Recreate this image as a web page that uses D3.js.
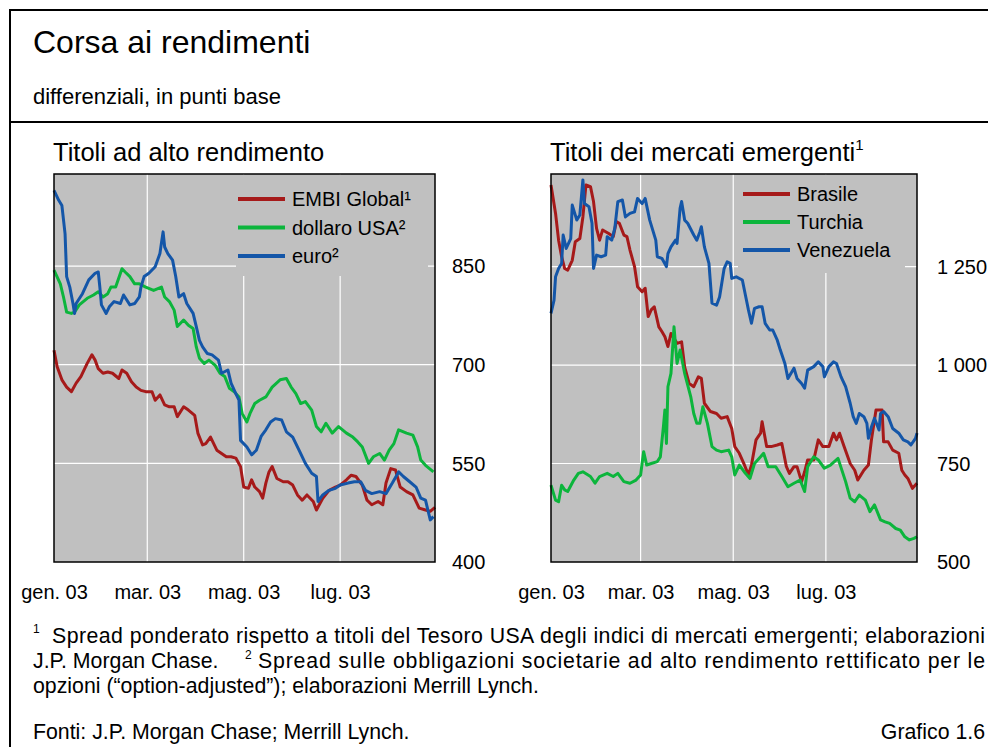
<!DOCTYPE html>
<html>
<head>
<meta charset="utf-8">
<script src="https://cdn.jsdelivr.net/npm/d3@7"></script>
<style>
  body { margin: 0; background: #fff; }
  svg { display: block; font-family: "Liberation Sans", Arial, sans-serif; }
</style>
</head>
<body>
<script>
// x axis: months shown and their labels
const monthTicks = ["2003-01-01", "2003-03-01", "2003-05-01", "2003-07-01"];
const monthLabels = ["gen. 03", "mar. 03", "mag. 03", "lug. 03"];

// left panel (high yield) - [days since 1 Jan 2003, basis points]
const hyTicks = [400, 550, 700, 850];
const embiGlobal = [[0,722],[2,697],[5,677],[8,666],[11,659],[14,672],[17,682],[21,702],[24,715],[26,707],[28,694],[31,687],[34,689],[37,687],[41,679],[43,692],[46,687],[49,674],[52,666],[55,661],[58,659],[62,659],[64,646],[67,654],[70,639],[73,636],[76,636],[78,621],[82,636],[85,631],[89,623],[91,596],[94,578],[96,580],[99,590],[103,570],[106,565],[109,560],[112,560],[115,558],[118,545],[120,514],[123,512],[125,525],[127,514],[130,507],[132,497],[134,520],[136,537],[138,545],[141,527],[145,522],[148,522],[151,517],[154,502],[157,494],[160,502],[164,492],[166,479],[170,497],[174,509],[178,514],[181,517],[185,525],[188,532],[191,530],[195,517],[198,494],[201,487],[205,492],[208,487],[210,520],[213,542],[216,540],[219,514],[223,507],[227,502],[231,482],[235,479],[238,477],[241,483]];
const dollaroUSA = [[0,844],[4,823],[6,803],[8,780],[11,778],[13,780],[16,791],[21,801],[25,806],[28,811],[31,803],[34,808],[36,818],[39,818],[43,846],[45,841],[48,834],[51,823],[54,823],[58,818],[63,813],[68,818],[70,803],[73,796],[76,783],[78,758],[82,768],[85,760],[88,755],[90,727],[92,710],[95,702],[98,707],[102,699],[105,687],[108,682],[111,664],[114,659],[117,651],[119,626],[122,613],[124,626],[127,641],[130,646],[134,651],[138,666],[143,677],[147,679],[150,666],[153,656],[156,641],[159,644],[163,631],[166,606],[169,598],[172,611],[176,596],[180,606],[185,596],[189,590],[192,583],[195,575],[199,550],[202,560],[206,565],[209,555],[212,570],[215,580],[218,601],[223,596],[227,593],[230,575],[232,555],[235,547],[240,537]];
const euro = [[0,965],[3,950],[5,942],[7,899],[8,834],[10,818],[12,793],[13,778],[14,793],[18,808],[22,829],[26,839],[28,841],[29,818],[30,791],[33,778],[35,788],[38,796],[42,793],[44,806],[48,791],[51,793],[54,803],[55,818],[57,834],[60,839],[64,849],[67,869],[69,902],[70,879],[72,869],[75,859],[77,834],[79,803],[82,808],[84,793],[88,778],[90,758],[92,737],[94,727],[97,717],[100,715],[104,707],[106,687],[110,692],[112,672],[115,656],[117,646],[118,585],[122,575],[125,563],[128,570],[131,591],[134,601],[137,613],[140,618],[144,616],[147,598],[151,590],[155,570],[159,550],[163,535],[166,530],[167,492],[170,502],[174,509],[178,512],[181,517],[186,520],[190,522],[194,522],[197,509],[201,504],[206,507],[210,504],[214,520],[218,537],[221,530],[225,522],[229,514],[232,497],[235,494],[238,464],[240,469]];

// right panel (emerging markets)
const emTicks = [500, 750, 1000, 1250];
const brasile = [[0,1457],[3,1385],[5,1317],[7,1275],[9,1245],[11,1241],[14,1266],[16,1313],[19,1321],[21,1376],[23,1457],[26,1453],[28,1415],[30,1347],[32,1317],[34,1343],[38,1334],[41,1326],[43,1364],[45,1360],[48,1330],[50,1326],[52,1292],[55,1250],[57,1199],[60,1186],[62,1195],[64,1123],[66,1140],[68,1148],[71,1097],[73,1085],[75,1072],[77,1047],[79,1080],[83,1055],[86,1059],[88,995],[91,953],[94,945],[97,970],[99,966],[101,903],[105,882],[109,877],[112,865],[116,869],[119,839],[121,793],[124,776],[127,750],[130,721],[132,746],[135,810],[138,827],[139,856],[142,793],[145,793],[149,797],[152,801],[155,742],[157,725],[160,742],[162,742],[165,704],[167,729],[169,759],[173,759],[176,810],[179,793],[183,793],[186,827],[188,810],[190,827],[193,793],[197,750],[200,733],[202,708],[206,733],[209,746],[211,810],[214,886],[218,886],[219,805],[222,805],[225,784],[229,776],[231,733],[233,721],[235,712],[238,687],[241,700]];
const turchia = [[0,695],[3,657],[5,653],[7,695],[9,683],[11,679],[15,708],[18,725],[21,729],[26,717],[29,700],[32,717],[37,725],[41,717],[44,725],[48,704],[52,700],[56,708],[59,721],[61,780],[63,746],[66,750],[70,755],[72,767],[74,843],[75,886],[76,801],[77,945],[79,979],[81,1097],[83,1004],[85,1038],[88,979],[92,920],[94,877],[96,852],[98,852],[100,894],[103,852],[106,793],[109,784],[112,780],[117,784],[119,767],[121,721],[124,746],[128,725],[131,712],[134,750],[138,767],[140,776],[143,742],[148,742],[152,717],[156,691],[160,700],[164,708],[167,679],[169,742],[173,767],[176,759],[180,738],[184,746],[189,763],[194,704],[197,662],[200,653],[203,670],[207,657],[210,628],[213,645],[217,607],[220,602],[223,598],[227,585],[230,581],[233,564],[236,556],[239,560],[241,564]];
const venezuela = [[0,1131],[2,1165],[3,1224],[5,1245],[7,1258],[8,1330],[10,1296],[13,1321],[14,1406],[17,1368],[19,1381],[21,1470],[22,1410],[25,1402],[27,1360],[28,1245],[30,1279],[33,1275],[36,1279],[37,1326],[40,1317],[42,1347],[44,1415],[47,1419],[49,1376],[52,1385],[55,1389],[57,1423],[60,1410],[62,1423],[65,1368],[69,1317],[70,1275],[73,1271],[76,1250],[77,1283],[79,1300],[82,1317],[83,1309],[85,1398],[86,1415],[88,1368],[90,1360],[94,1330],[96,1317],[98,1338],[99,1351],[101,1300],[104,1258],[106,1157],[109,1152],[111,1173],[114,1245],[116,1262],[118,1258],[119,1220],[122,1224],[126,1216],[128,1178],[130,1140],[132,1106],[134,1144],[137,1148],[139,1148],[141,1106],[144,1089],[146,1089],[149,1063],[151,1038],[154,1004],[156,966],[160,992],[162,966],[165,953],[167,941],[169,987],[173,996],[176,1008],[179,996],[180,970],[183,996],[186,1008],[188,1004],[191,970],[194,945],[197,903],[199,869],[201,852],[203,877],[206,869],[208,852],[209,814],[211,843],[213,865],[216,835],[217,877],[219,882],[222,869],[225,839],[229,827],[232,810],[235,805],[237,797],[240,814],[241,827]];

const RED = "#a61a1a", GREEN = "#0cb53c", BLUE = "#1456a8", BG = "#c0c0c0";
const start = new Date(2003, 0, 1);
const toDate = d => d3.timeDay.offset(start, d[0]);
const locale = d3.formatLocale({ decimal: ",", thousands: " ", grouping: [3], currency: ["", ""] });
const fmt = locale.format(",d");

const svg = d3.select("body").append("svg")
    .attr("width", 988)
    .attr("height", 747);

// frame
svg.append("line").attr("x1", 9).attr("x2", 988).attr("y1", 10).attr("y2", 10).attr("stroke", "#000").attr("stroke-width", 2);
svg.append("line").attr("x1", 10).attr("x2", 10).attr("y1", 9).attr("y2", 747).attr("stroke", "#000").attr("stroke-width", 2);
svg.append("line").attr("x1", 9).attr("x2", 988).attr("y1", 122).attr("y2", 122).attr("stroke", "#000").attr("stroke-width", 2);

svg.append("text").attr("x", 33).attr("y", 53).attr("font-size", 32).text("Corsa ai rendimenti");
svg.append("text").attr("x", 33).attr("y", 104).attr("font-size", 22).text("differenziali, in punti base");

function panel(cfg) {
    const g = svg.append("g");
    const x = d3.scaleTime()
        .domain([start, new Date(2003, 7, 30)])
        .range([cfg.left, cfg.right]);
    const y = d3.scaleLinear()
        .domain(cfg.yDomain)
        .range([562, 174]);

    g.append("rect")
        .attr("x", cfg.left).attr("y", 174)
        .attr("width", cfg.right - cfg.left).attr("height", 562 - 174)
        .attr("fill", BG);

    // grid
    g.selectAll(".hg").data(cfg.ticks.slice(1)).join("line")
        .attr("x1", cfg.left).attr("x2", cfg.right)
        .attr("y1", d => y(d)).attr("y2", d => y(d))
        .attr("stroke", "#fff").attr("stroke-width", 1.2);
    g.selectAll(".vg").data(monthTicks.slice(1)).join("line")
        .attr("x1", d => x(new Date(d))).attr("x2", d => x(new Date(d)))
        .attr("y1", 174).attr("y2", 562)
        .attr("stroke", "#fff").attr("stroke-width", 1.2);

    // legend box hides the grid behind it
    g.append("rect")
        .attr("x", cfg.legend.x0).attr("y", 175)
        .attr("width", cfg.legend.x1 - cfg.legend.x0).attr("height", cfg.legend.y1 - 175)
        .attr("fill", BG);

    const line = d3.line()
        .x(d => x(toDate(d)))
        .y(d => y(d[1]));

    cfg.series.forEach(s => {
        g.append("path")
            .datum(s.data)
            .attr("fill", "none")
            .attr("stroke", s.color)
            .attr("stroke-width", 3)
            .attr("stroke-linejoin", "round")
            .attr("d", line);
    });

    // legend
    cfg.series.forEach((s, i) => {
        const ly = cfg.legend.y + i * cfg.legend.step;
        g.append("line")
            .attr("x1", cfg.legend.lx).attr("x2", cfg.legend.lx + 47)
            .attr("y1", ly).attr("y2", ly)
            .attr("stroke", s.color).attr("stroke-width", 4);
        g.append("text")
            .attr("x", cfg.legend.lx + 54).attr("y", ly)
            .attr("dy", "0.36em")
            .attr("font-size", 20)
            .text(s.name);
    });

    // border
    g.append("rect")
        .attr("x", cfg.left).attr("y", 174)
        .attr("width", cfg.right - cfg.left).attr("height", 562 - 174)
        .attr("fill", "none").attr("stroke", "#000").attr("stroke-width", 1.5);

    // y tick labels on the right
    g.selectAll(".yl").data(cfg.ticks).join("text")
        .attr("x", cfg.right + cfg.labelGap)
        .attr("y", d => y(d))
        .attr("dy", "0.36em")
        .attr("font-size", 20)
        .text(d => fmt(d));

    // x axis labels
    const xAxis = d3.axisBottom(x)
        .tickValues(monthTicks.map(d => new Date(d)))
        .tickFormat((d, i) => monthLabels[i])
        .tickSize(0)
        .tickPadding(0);
    const ax = g.append("g").attr("transform", "translate(0,585)").call(xAxis);
    ax.select(".domain").remove();
    ax.selectAll("text").attr("font-size", 20).attr("font-family", "Liberation Sans, Arial, sans-serif").attr("fill", "#000");

    // title
    const t = g.append("text").attr("x", cfg.left - 1).attr("y", 161).attr("font-size", 25.5).text(cfg.title);
    if (cfg.sup) t.append("tspan").attr("font-size", 15).attr("dy", -11).text(cfg.sup);
}

panel({
    left: 54, right: 435,
    yDomain: [400, 990],
    ticks: hyTicks,
    labelGap: 17,
    title: "Titoli ad alto rendimento",
    legend: { x0: 236, x1: 428, y1: 276, lx: 238, y: 199, step: 28.5 },
    series: [
        { name: "EMBI Global¹", color: RED, data: embiGlobal },
        { name: "dollaro USA²", color: GREEN, data: dollaroUSA },
        { name: "euro²", color: BLUE, data: euro }
    ]
});

panel({
    left: 551, right: 917,
    yDomain: [500, 1485],
    ticks: emTicks,
    labelGap: 20,
    title: "Titoli dei mercati emergenti",
    sup: "1",
    legend: { x0: 738, x1: 905, y1: 273, lx: 743, y: 194, step: 28 },
    series: [
        { name: "Brasile", color: RED, data: brasile },
        { name: "Turchia", color: GREEN, data: turchia },
        { name: "Venezuela", color: BLUE, data: venezuela }
    ]
});

// footnotes
const fs = 21.3;
svg.append("text").attr("x", 33).attr("y", 633).attr("font-size", 12).text("1");
svg.append("text").attr("x", 52).attr("y", 643).attr("font-size", fs)
    .attr("textLength", 933).attr("lengthAdjust", "spacing")
    .text("Spread ponderato rispetto a titoli del Tesoro USA degli indici di mercati emergenti; elaborazioni");
svg.append("text").attr("x", 33).attr("y", 668).attr("font-size", fs).text("J.P. Morgan Chase.");
svg.append("text").attr("x", 245).attr("y", 659).attr("font-size", 12).text("2");
svg.append("text").attr("x", 258).attr("y", 668).attr("font-size", fs)
    .attr("textLength", 727).attr("lengthAdjust", "spacing")
    .text("Spread sulle obbligazioni societarie ad alto rendimento rettificato per le");
svg.append("text").attr("x", 33).attr("y", 693).attr("font-size", fs)
    .text("opzioni (\u201coption-adjusted\u201d); elaborazioni Merrill Lynch.");
svg.append("text").attr("x", 33).attr("y", 739).attr("font-size", fs).text("Fonti: J.P. Morgan Chase; Merrill Lynch.");
svg.append("text").attr("x", 985).attr("y", 739).attr("font-size", fs).attr("text-anchor", "end").text("Grafico 1.6");
</script>
</body>
</html>
